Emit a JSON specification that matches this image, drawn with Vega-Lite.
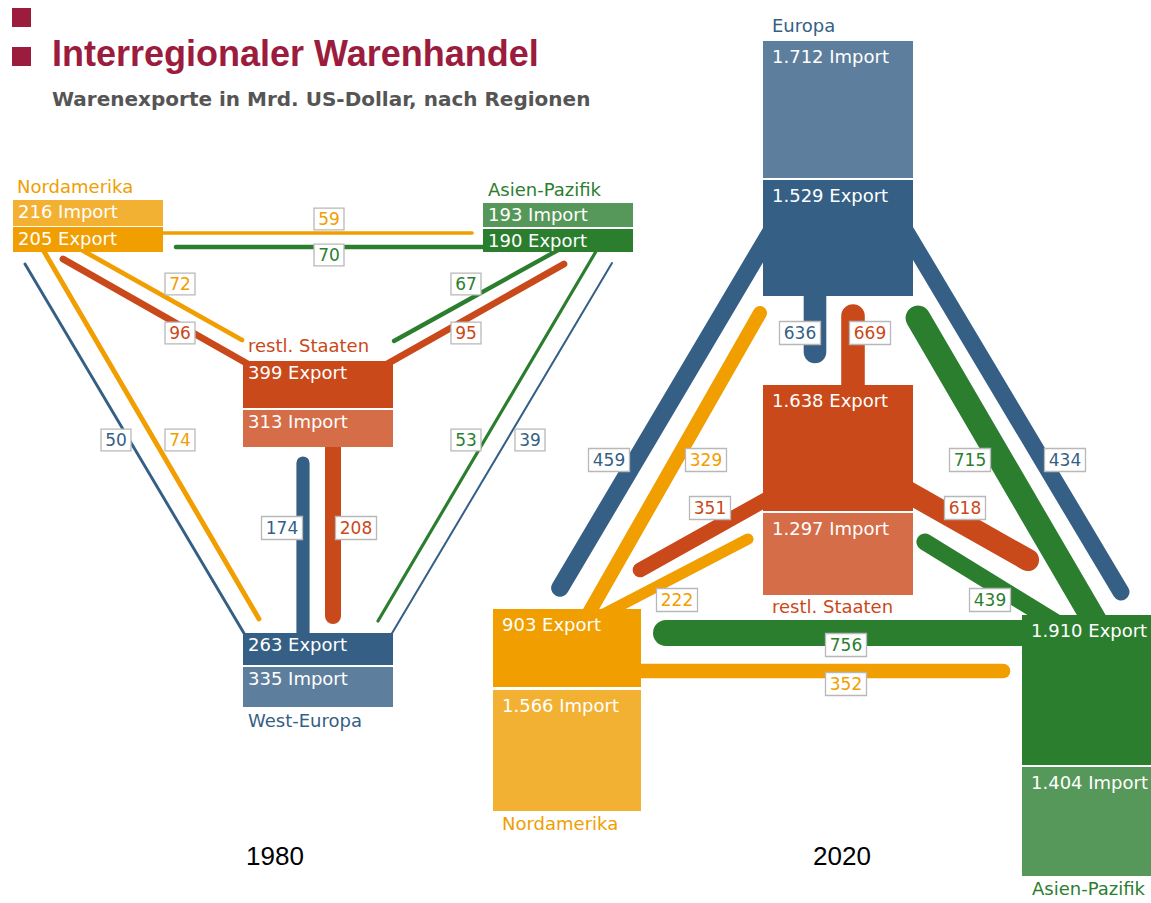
{
  "$schema": "https://vega.github.io/schema/vega-lite/v6.json",
  "width": 1151,
  "height": 903,
  "padding": 0,
  "autosize": {"type": "none"},
  "background": "white",
  "config": {"view": {"stroke": null}},
  "datasets": {
    "flows": [
      {"year": 1980, "from": "Nordamerika", "to": "Asien-Pazifik", "value": 59, "x": 150, "y": 233, "x2": 472, "y2": 233, "lx": 329, "ly": 219},
      {"year": 1980, "from": "Asien-Pazifik", "to": "Nordamerika", "value": 70, "x": 495, "y": 247, "x2": 176, "y2": 247, "lx": 329, "ly": 255},
      {"year": 1980, "from": "Nordamerika", "to": "restl. Staaten", "value": 72, "x": 80, "y": 249, "x2": 242, "y2": 340, "lx": 180, "ly": 284},
      {"year": 1980, "from": "restl. Staaten", "to": "Nordamerika", "value": 96, "x": 255, "y": 368, "x2": 63, "y2": 259, "lx": 180, "ly": 333},
      {"year": 1980, "from": "Asien-Pazifik", "to": "restl. Staaten", "value": 67, "x": 560, "y": 249, "x2": 394, "y2": 341, "lx": 466, "ly": 284},
      {"year": 1980, "from": "restl. Staaten", "to": "Asien-Pazifik", "value": 95, "x": 380, "y": 368, "x2": 564, "y2": 264, "lx": 466, "ly": 333},
      {"year": 1980, "from": "Europa", "to": "Nordamerika", "value": 50, "x": 248, "y": 640, "x2": 25, "y2": 264, "lx": 116, "ly": 440},
      {"year": 1980, "from": "Nordamerika", "to": "Europa", "value": 74, "x": 42, "y": 248, "x2": 259, "y2": 619, "lx": 180, "ly": 440},
      {"year": 1980, "from": "Asien-Pazifik", "to": "Europa", "value": 53, "x": 598, "y": 248, "x2": 378, "y2": 621, "lx": 466, "ly": 440},
      {"year": 1980, "from": "Europa", "to": "Asien-Pazifik", "value": 39, "x": 388, "y": 640, "x2": 612, "y2": 263, "lx": 530, "ly": 440},
      {"year": 1980, "from": "Europa", "to": "restl. Staaten", "value": 174, "x": 303, "y": 645, "x2": 303, "y2": 463, "lx": 282, "ly": 528},
      {"year": 1980, "from": "restl. Staaten", "to": "Europa", "value": 208, "x": 333, "y": 430, "x2": 333, "y2": 616, "lx": 356, "ly": 528},
      {"year": 2020, "from": "Europa", "to": "restl. Staaten", "value": 636, "x": 815, "y": 270, "x2": 815, "y2": 352, "lx": 800, "ly": 333},
      {"year": 2020, "from": "restl. Staaten", "to": "Europa", "value": 669, "x": 853, "y": 420, "x2": 853, "y2": 316, "lx": 870, "ly": 333},
      {"year": 2020, "from": "Europa", "to": "Nordamerika", "value": 459, "x": 772, "y": 230, "x2": 560, "y2": 588, "lx": 609, "ly": 460},
      {"year": 2020, "from": "Europa", "to": "Asien-Pazifik", "value": 434, "x": 905, "y": 230, "x2": 1121, "y2": 592, "lx": 1065, "ly": 460},
      {"year": 2020, "from": "Nordamerika", "to": "Europa", "value": 329, "x": 582, "y": 625, "x2": 760, "y2": 313, "lx": 706, "ly": 460},
      {"year": 2020, "from": "Asien-Pazifik", "to": "Europa", "value": 715, "x": 1100, "y": 630, "x2": 918, "y2": 318, "lx": 970, "ly": 460},
      {"year": 2020, "from": "restl. Staaten", "to": "Nordamerika", "value": 351, "x": 790, "y": 486, "x2": 640, "y2": 570, "lx": 710, "ly": 508},
      {"year": 2020, "from": "restl. Staaten", "to": "Asien-Pazifik", "value": 618, "x": 890, "y": 482, "x2": 1028, "y2": 560, "lx": 965, "ly": 508},
      {"year": 2020, "from": "Nordamerika", "to": "restl. Staaten", "value": 222, "x": 600, "y": 616, "x2": 748, "y2": 539, "lx": 677, "ly": 600},
      {"year": 2020, "from": "Asien-Pazifik", "to": "restl. Staaten", "value": 439, "x": 1060, "y": 625, "x2": 925, "y2": 542, "lx": 990, "ly": 600},
      {"year": 2020, "from": "Asien-Pazifik", "to": "Nordamerika", "value": 756, "x": 1040, "y": 633, "x2": 666, "y2": 633, "lx": 846, "ly": 645},
      {"year": 2020, "from": "Nordamerika", "to": "Asien-Pazifik", "value": 352, "x": 620, "y": 671, "x2": 1003, "y2": 671, "lx": 846, "ly": 684}
    ],
    "boxes": [
      {"year": 1980, "region": "Nordamerika", "kind": "Import", "label": "216 Import", "x": 13, "x2": 163, "y": 200, "y2": 226},
      {"year": 1980, "region": "Nordamerika", "kind": "Export", "label": "205 Export", "x": 13, "x2": 163, "y": 227, "y2": 252},
      {"year": 1980, "region": "Asien-Pazifik", "kind": "Import", "label": "193 Import", "x": 483, "x2": 633, "y": 203, "y2": 227},
      {"year": 1980, "region": "Asien-Pazifik", "kind": "Export", "label": "190 Export", "x": 483, "x2": 633, "y": 229, "y2": 252},
      {"year": 1980, "region": "restl. Staaten", "kind": "Export", "label": "399 Export", "x": 243, "x2": 393, "y": 361, "y2": 408},
      {"year": 1980, "region": "restl. Staaten", "kind": "Import", "label": "313 Import", "x": 243, "x2": 393, "y": 410, "y2": 447},
      {"year": 1980, "region": "Europa", "kind": "Export", "label": "263 Export", "x": 243, "x2": 393, "y": 633, "y2": 665},
      {"year": 1980, "region": "Europa", "kind": "Import", "label": "335 Import", "x": 243, "x2": 393, "y": 667, "y2": 707},
      {"year": 2020, "region": "Europa", "kind": "Import", "label": "1.712 Import", "x": 763, "x2": 913, "y": 41, "y2": 178},
      {"year": 2020, "region": "Europa", "kind": "Export", "label": "1.529 Export", "x": 763, "x2": 913, "y": 180, "y2": 296},
      {"year": 2020, "region": "restl. Staaten", "kind": "Export", "label": "1.638 Export", "x": 763, "x2": 913, "y": 385, "y2": 511},
      {"year": 2020, "region": "restl. Staaten", "kind": "Import", "label": "1.297 Import", "x": 763, "x2": 913, "y": 513, "y2": 595},
      {"year": 2020, "region": "Nordamerika", "kind": "Export", "label": "903 Export", "x": 493, "x2": 641, "y": 609, "y2": 687},
      {"year": 2020, "region": "Nordamerika", "kind": "Import", "label": "1.566 Import", "x": 493, "x2": 641, "y": 690, "y2": 811},
      {"year": 2020, "region": "Asien-Pazifik", "kind": "Export", "label": "1.910 Export", "x": 1022, "x2": 1160, "y": 615, "y2": 765},
      {"year": 2020, "region": "Asien-Pazifik", "kind": "Import", "label": "1.404 Import", "x": 1022, "x2": 1160, "y": 767, "y2": 876}
    ],
    "regions": [
      {"year": 1980, "region": "Nordamerika", "label": "Nordamerika", "x": 17, "y": 188},
      {"year": 1980, "region": "Asien-Pazifik", "label": "Asien-Pazifik", "x": 488, "y": 191},
      {"year": 1980, "region": "restl. Staaten", "label": "restl. Staaten", "x": 248, "y": 347},
      {"year": 1980, "region": "Europa", "label": "West-Europa", "x": 248, "y": 722},
      {"year": 2020, "region": "Europa", "label": "Europa", "x": 772, "y": 27},
      {"year": 2020, "region": "restl. Staaten", "label": "restl. Staaten", "x": 772, "y": 608},
      {"year": 2020, "region": "Nordamerika", "label": "Nordamerika", "x": 502, "y": 825},
      {"year": 2020, "region": "Asien-Pazifik", "label": "Asien-Pazifik", "x": 1032, "y": 890}
    ]
  },
  "resolve": {"scale": {"strokeWidth": "independent"}},
  "layer": [
    {
      "data": {"values": [{"x": 12, "x2": 31, "y": 8, "y2": 27}, {"x": 12, "x2": 31, "y": 47, "y2": 66}]},
      "mark": {"type": "rect", "color": "#9B1C3C"},
      "encoding": {
        "x": {"field": "x", "type": "quantitative", "scale": {"domain": [0, 1151], "nice": false, "zero": false}, "axis": null},
        "x2": {"field": "x2"},
        "y": {"field": "y", "type": "quantitative", "scale": {"domain": [0, 903], "nice": false, "zero": false, "reverse": true}, "axis": null},
        "y2": {"field": "y2"}
      }
    },
    {
      "data": {"values": [{"t": "Interregionaler Warenhandel", "x": 52, "y": 66}]},
      "mark": {"type": "text", "align": "left", "baseline": "alphabetic", "font": "Liberation Sans", "fontWeight": "bold", "fontSize": 36, "color": "#9B1C3C"},
      "encoding": {
        "x": {"field": "x", "type": "quantitative"},
        "y": {"field": "y", "type": "quantitative"},
        "text": {"field": "t"}
      }
    },
    {
      "data": {"values": [{"t": "Warenexporte in Mrd. US-Dollar, nach Regionen", "x": 52, "y": 106}]},
      "mark": {"type": "text", "align": "left", "baseline": "alphabetic", "font": "DejaVu Sans", "fontWeight": "bold", "fontSize": 20, "color": "#555555"},
      "encoding": {
        "x": {"field": "x", "type": "quantitative"},
        "y": {"field": "y", "type": "quantitative"},
        "text": {"field": "t"}
      }
    },
    {
      "data": {"values": [{"t": "1980", "x": 275, "y": 857}, {"t": "2020", "x": 842, "y": 857}]},
      "mark": {"type": "text", "align": "center", "baseline": "middle", "font": "Liberation Sans", "fontSize": 26, "color": "#000000"},
      "encoding": {
        "x": {"field": "x", "type": "quantitative"},
        "y": {"field": "y", "type": "quantitative"},
        "text": {"field": "t"}
      }
    },
    {
      "data": {"name": "flows"},
      "transform": [{"filter": "datum.year == 1980"}],
      "mark": {"type": "rule", "strokeCap": "round"},
      "encoding": {
        "x": {"field": "x", "type": "quantitative"},
        "y": {"field": "y", "type": "quantitative"},
        "x2": {"field": "x2"},
        "y2": {"field": "y2"},
        "color": {"field": "from", "type": "nominal", "scale": {"domain": ["Nordamerika", "Asien-Pazifik", "restl. Staaten", "Europa"], "range": ["#F09E00", "#2C7E2F", "#C9491A", "#355F85"]}, "legend": null},
        "strokeWidth": {"field": "value", "type": "quantitative", "scale": {"domain": [39, 208], "range": [2, 16], "zero": false}, "legend": null}
      }
    },
    {
      "data": {"name": "flows"},
      "transform": [{"filter": "datum.year == 2020"}],
      "mark": {"type": "rule", "strokeCap": "round"},
      "encoding": {
        "x": {"field": "x", "type": "quantitative"},
        "y": {"field": "y", "type": "quantitative"},
        "x2": {"field": "x2"},
        "y2": {"field": "y2"},
        "color": {"field": "from", "type": "nominal", "legend": null},
        "strokeWidth": {"field": "value", "type": "quantitative", "scale": {"domain": [222, 756], "range": [11, 26], "zero": false}, "legend": null}
      }
    },
    {
      "data": {"name": "boxes"},
      "mark": {"type": "rect", "color": "white"},
      "encoding": {
        "x": {"field": "x", "type": "quantitative"},
        "x2": {"field": "x2"},
        "y": {"field": "y", "type": "quantitative"},
        "y2": {"field": "y2"}
      }
    },
    {
      "data": {"name": "boxes"},
      "mark": {"type": "rect"},
      "encoding": {
        "x": {"field": "x", "type": "quantitative"},
        "x2": {"field": "x2"},
        "y": {"field": "y", "type": "quantitative"},
        "y2": {"field": "y2"},
        "color": {"field": "region", "type": "nominal", "legend": null},
        "opacity": {"field": "kind", "type": "nominal", "scale": {"domain": ["Export", "Import"], "range": [1, 0.8]}, "legend": null}
      }
    },
    {
      "data": {"name": "boxes"},
      "transform": [{"filter": "datum.year == 1980"}],
      "mark": {"type": "text", "align": "left", "baseline": "middle", "dx": 5, "dy": 13, "font": "DejaVu Sans", "fontSize": 18, "color": "white"},
      "encoding": {
        "x": {"field": "x", "type": "quantitative"},
        "y": {"field": "y", "type": "quantitative"},
        "text": {"field": "label"}
      }
    },
    {
      "data": {"name": "boxes"},
      "transform": [{"filter": "datum.year == 2020"}],
      "mark": {"type": "text", "align": "left", "baseline": "middle", "dx": 9, "dy": 17, "font": "DejaVu Sans", "fontSize": 18, "color": "white"},
      "encoding": {
        "x": {"field": "x", "type": "quantitative"},
        "y": {"field": "y", "type": "quantitative"},
        "text": {"field": "label"}
      }
    },
    {
      "data": {"name": "regions"},
      "mark": {"type": "text", "align": "left", "baseline": "middle", "font": "DejaVu Sans", "fontSize": 18},
      "encoding": {
        "x": {"field": "x", "type": "quantitative"},
        "y": {"field": "y", "type": "quantitative"},
        "text": {"field": "label"},
        "color": {"field": "region", "type": "nominal", "legend": null}
      }
    },
    {
      "data": {"name": "flows"},
      "transform": [{"filter": "datum.value < 100"}],
      "mark": {"type": "point", "shape": "M-1,-0.73H1V0.73H-1Z", "filled": true, "fill": "white", "stroke": "#b8b8b8", "strokeWidth": 1.3, "size": 900, "opacity": 1},
      "encoding": {
        "x": {"field": "lx", "type": "quantitative"},
        "y": {"field": "ly", "type": "quantitative"}
      }
    },
    {
      "data": {"name": "flows"},
      "transform": [{"filter": "datum.value >= 100"}],
      "mark": {"type": "point", "shape": "M-1,-0.56H1V0.56H-1Z", "filled": true, "fill": "white", "stroke": "#b8b8b8", "strokeWidth": 1.3, "size": 1681, "opacity": 1},
      "encoding": {
        "x": {"field": "lx", "type": "quantitative"},
        "y": {"field": "ly", "type": "quantitative"}
      }
    },
    {
      "data": {"name": "flows"},
      "mark": {"type": "text", "align": "center", "baseline": "middle", "font": "DejaVu Sans", "fontSize": 17, "dy": 1},
      "encoding": {
        "x": {"field": "lx", "type": "quantitative"},
        "y": {"field": "ly", "type": "quantitative"},
        "text": {"field": "value", "type": "quantitative"},
        "color": {"field": "from", "type": "nominal", "legend": null}
      }
    }
  ]
}
